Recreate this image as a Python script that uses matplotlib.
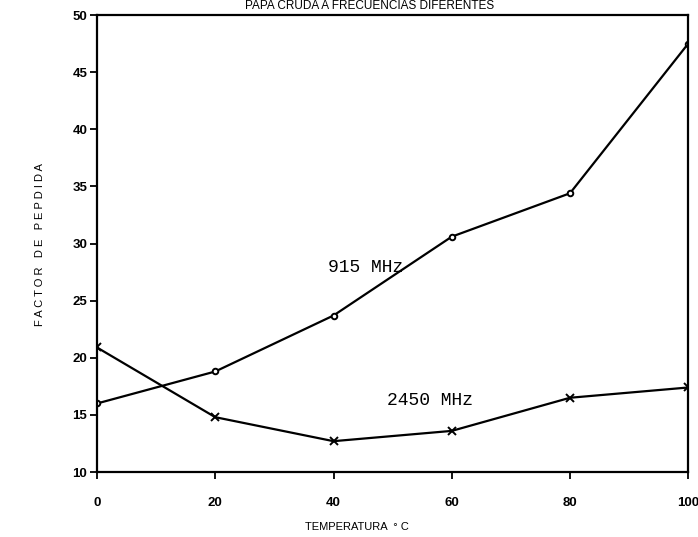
import numpy as np
import matplotlib
matplotlib.use("Agg")
import matplotlib.pyplot as plt

# temperatura (C) y factor de perdida a cada frecuencia
temp = [0, 20, 40, 60, 80, 100]
f915 = [16.0, 18.8, 23.7, 30.6, 34.4, 47.5]
f2450 = [20.9, 14.8, 12.7, 13.6, 16.5, 17.4]

xticks = [0, 20, 40, 60, 80, 100]
yticks = [10, 15, 20, 25, 30, 35, 40, 45, 50]

plt.rcParams['font.family'] = ['Liberation Sans', 'DejaVu Sans']

fig = plt.figure(figsize=(6.98, 5.37), dpi=100)
ax = fig.add_axes([0.139, 0.121, 0.847, 0.851])

ax.plot(temp, f915, color='black', lw=1.6, marker='o', ms=4,
        mfc='white', mec='black', mew=1.4)
ax.plot(temp, f2450, color='black', lw=1.6, marker='x', ms=6, mew=1.4)

ax.set_xlim(0, 100)
ax.set_ylim(10, 50)
ax.set_xticks(xticks)
ax.set_yticks(yticks)
ax.tick_params(axis='both', direction='out', length=5, width=1.3,
               labelsize=9.5)
ax.tick_params(axis='x', pad=13)
ax.tick_params(axis='y', pad=2)
for lbl in ax.get_xticklabels() + ax.get_yticklabels():
    lbl.set_fontweight('bold')
for s in ax.spines.values():
    s.set_linewidth(1.6)

# etiquetas de las curvas
ax.text(39.0, 27.9, '915 MHz', family='Liberation Mono', fontsize=13,
        ha='left', va='center')
ax.text(49.0, 16.3, '2450 MHz', family='Liberation Mono', fontsize=13,
        ha='left', va='center')

fig.text(370 / 698, 1 - 6 / 537, 'PAPA CRUDA A FRECUENCIAS DIFERENTES',
         ha='center', va='center', fontsize=8.5)
fig.text(357 / 698, 1 - 527 / 537, 'TEMPERATURA  \u00b0 C',
         ha='center', va='center', fontsize=8)
fig.text(40 / 698, 1 - 245 / 537, 'F A C T O R   D E   P E P D I D A',
         ha='center', va='center', rotation=90, fontsize=8)

fig.savefig('out.png', dpi=100)
